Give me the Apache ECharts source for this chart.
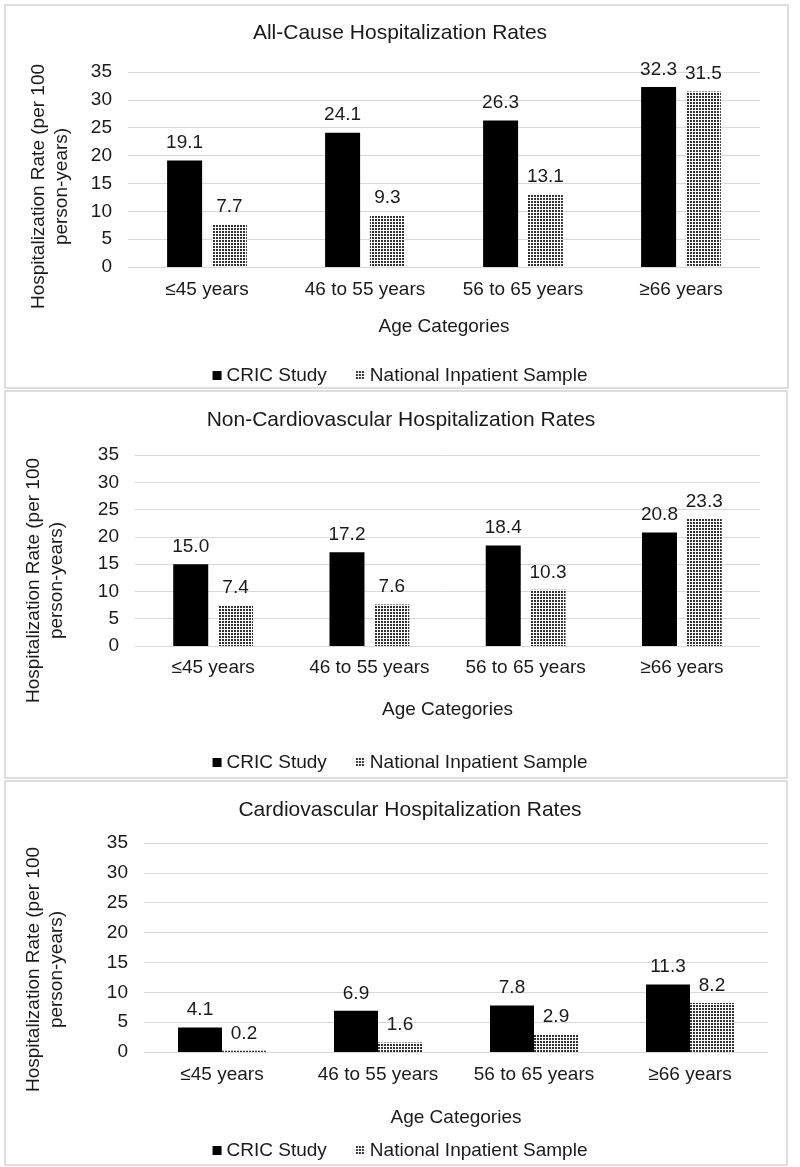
<!DOCTYPE html>
<html>
<head>
<meta charset="utf-8">
<script src="https://cdn.jsdelivr.net/npm/echarts@6/dist/echarts.min.js"></script>
<style>
html,body{margin:0;padding:0;background:#fff;}
#chart{width:800px;height:1167px;}
</style>
</head>
<body>
<div id="chart"></div>
<script>
// ---- data ----
var categories = ['≤45 years', '46 to 55 years', '56 to 65 years', '≥66 years'];
var panelTitles = ['All-Cause Hospitalization Rates', 'Non-Cardiovascular Hospitalization Rates', 'Cardiovascular Hospitalization Rates'];
var seriesNames = ['CRIC Study', 'National Inpatient Sample'];
var allCauseCric = [19.1, 24.1, 26.3, 32.3];
var allCauseNis = [7.7, 9.3, 13.1, 31.5];
var nonCvCric = [15.0, 17.2, 18.4, 20.8];
var nonCvNis = [7.4, 7.6, 10.3, 23.3];
var cvCric = [4.1, 6.9, 7.8, 11.3];
var cvNis = [0.2, 1.6, 2.9, 8.2];
var yTicks = [0, 5, 10, 15, 20, 25, 30, 35];
var yAxisTitle = 'Hospitalization Rate (per 100\nperson-years)';
var xAxisTitle = 'Age Categories';

// ---- dotted pattern fill ----
var pc = document.createElement('canvas');
pc.width = 3; pc.height = 3;
var ctx = pc.getContext('2d');
ctx.fillStyle = '#ffffff'; ctx.fillRect(0, 0, 3, 3);
ctx.fillStyle = '#333333'; ctx.fillRect(0, 0, 2, 2);
var patternFill = { image: pc, repeat: 'repeat' };

var FONT = 'Arial, "Liberation Sans", sans-serif';
var TXT = '#1a1a1a';
var GRIDC = '#d9d9d9';
var FS = 19;

var panels = [
  { cric: allCauseCric, nis: allCauseNis, grid: { left: 128, top: 72, width: 632, height: 195 }, titleY: 18, titleX: 395, legendTop: 361, nameGapY: 55, nameGapX: 50, yPad: 34, barW: 35, barGap: '28%', labelMargin: 13 },
  { cric: nonCvCric, nis: nonCvNis, grid: { left: 135, top: 455, width: 625, height: 191 }, titleY: 405, titleX: 396, legendTop: 748, nameGapY: 67, nameGapX: 54, yPad: 60, barW: 35, barGap: '28%', labelMargin: 12 },
  { cric: cvCric, nis: cvNis, grid: { left: 144, top: 843, width: 624, height: 209 }, titleY: 795, titleX: 405, legendTop: 1136, nameGapY: 76, nameGapX: 56, yPad: 44, barW: 44, barGap: '0%', labelMargin: 13 }
];

var option = {
  backgroundColor: '#ffffff',
  animation: false,
  textStyle: { fontFamily: FONT },
  title: [], legend: [], grid: [], xAxis: [], yAxis: [], series: [],
  graphic: [
    { type: 'rect', shape: { x: 5, y: 5, width: 783, height: 383 }, style: { fill: 'none', stroke: '#d4d4d4', lineWidth: 1.5 }, silent: true },
    { type: 'rect', shape: { x: 5, y: 391, width: 782, height: 387 }, style: { fill: 'none', stroke: '#d4d4d4', lineWidth: 1.5 }, silent: true },
    { type: 'rect', shape: { x: 5, y: 781, width: 782, height: 384 }, style: { fill: 'none', stroke: '#d4d4d4', lineWidth: 1.5 }, silent: true }
  ]
};

var labelFmt = function (p) { return Number(p.value).toFixed(1); };

panels.forEach(function (p, i) {
  option.title.push({
    text: panelTitles[i], left: p.titleX, top: p.titleY, textAlign: 'center',
    textStyle: { fontFamily: FONT, fontSize: 21, fontWeight: 'normal', color: TXT }
  });
  option.legend.push({
    data: [
      { name: seriesNames[0], itemStyle: { color: '#000000' } },
      { name: seriesNames[1], itemStyle: { color: patternFill } }
    ],
    left: 'center', top: p.legendTop, itemWidth: 9, itemHeight: 9, itemGap: 29, icon: 'rect',
    textStyle: { fontFamily: FONT, fontSize: FS, color: TXT }, selectedMode: false
  });
  option.grid.push(p.grid);
  option.xAxis.push({
    type: 'category', gridIndex: i, data: categories,
    name: xAxisTitle, nameLocation: 'middle', nameGap: p.nameGapX,
    nameTextStyle: { fontFamily: FONT, fontSize: FS, color: TXT },
    axisLine: { lineStyle: { color: GRIDC, width: 1 } },
    axisTick: { show: false },
    axisLabel: { fontFamily: FONT, fontSize: FS, color: TXT, margin: p.labelMargin, interval: 0 }
  });
  option.yAxis.push({
    type: 'value', gridIndex: i, min: yTicks[0], max: yTicks[yTicks.length - 1], interval: 5,
    name: yAxisTitle, nameLocation: 'middle', nameGap: p.nameGapY, nameRotate: 90,
    nameTextStyle: { fontFamily: FONT, fontSize: FS, color: TXT, lineHeight: 23, align: 'center', padding: [0, p.yPad, 0, 0] },
    axisLine: { show: false }, axisTick: { show: false },
    axisLabel: { fontFamily: FONT, fontSize: FS, color: TXT, margin: 16 },
    splitLine: { lineStyle: { color: GRIDC, width: 1 } }
  });
  option.series.push({
    name: seriesNames[0], type: 'bar', xAxisIndex: i, yAxisIndex: i, data: p.cric,
    barWidth: p.barW, barGap: p.barGap,
    itemStyle: { color: '#000000' },
    label: { show: true, position: 'top', distance: 8, formatter: labelFmt, fontFamily: FONT, fontSize: FS, color: TXT }
  });
  option.series.push({
    name: seriesNames[1], type: 'bar', xAxisIndex: i, yAxisIndex: i, data: p.nis,
    barWidth: p.barW, barGap: p.barGap,
    itemStyle: { color: patternFill },
    label: { show: true, position: 'top', distance: 8, formatter: labelFmt, fontFamily: FONT, fontSize: FS, color: TXT }
  });
});

var chart = echarts.init(document.getElementById('chart'), null, { renderer: 'canvas' });
chart.setOption(option);
</script>
</body>
</html>
